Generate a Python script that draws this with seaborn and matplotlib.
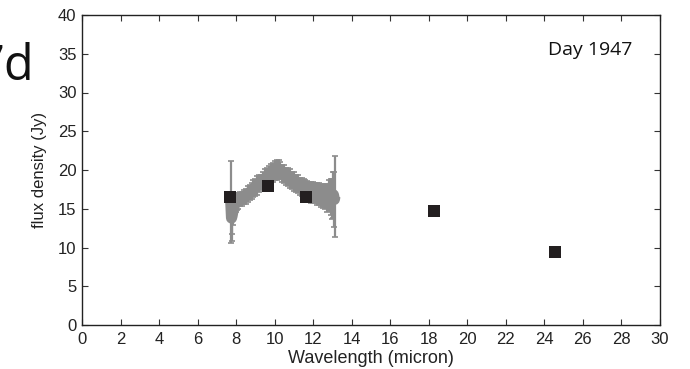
import numpy as np
import pandas as pd
import matplotlib
matplotlib.use("Agg")
import matplotlib.pyplot as plt
import seaborn as sns

# Spectrum (gray, with error bars)
spec_wl = [7.72, 7.76, 7.80, 7.85, 7.90, 7.95, 8.00, 8.05, 8.10, 8.20, 8.30, 8.40, 8.50, 8.60,
           8.70, 8.80, 8.90, 9.00, 9.10, 9.20, 9.30, 9.40, 9.50, 9.60, 9.70, 9.80,
           9.90, 10.00, 10.10, 10.20, 10.30, 10.40, 10.50, 10.60, 10.70, 10.80, 10.90,
           11.00, 11.10, 11.20, 11.30, 11.40, 11.50, 11.60, 11.70, 11.80, 11.90, 12.00,
           12.10, 12.20, 12.30, 12.40, 12.50, 12.60, 12.70, 12.80, 12.90, 13.00, 13.05,
           13.10, 13.13]
spec_flux = [15.9, 13.8, 14.2, 14.9, 15.4, 15.7, 15.8, 15.9, 16.0, 16.2, 16.3, 16.5, 16.6, 16.9,
             17.1, 17.3, 17.6, 17.8, 18.0, 18.3, 18.4, 18.6, 18.9, 19.0, 19.3, 19.5,
             19.7, 19.9, 20.0, 20.1, 19.9, 19.6, 19.5, 19.2, 19.1, 18.9, 18.6,
             18.5, 18.3, 18.2, 17.9, 17.8, 17.6, 17.5, 17.3, 17.3, 17.1, 17.1,
             17.0, 16.9, 16.9, 16.7, 16.6, 16.6, 16.4, 16.7, 16.5, 16.3, 16.8,
             16.2, 16.6]
spec_err = [5.3, 3.0, 2.5, 2.0, 1.6, 1.3, 1.2, 1.1, 1.0, 0.9, 0.9, 0.9, 1.0, 1.0,
            1.0, 1.0, 1.1, 1.1, 1.2, 1.1, 1.0, 1.1, 1.2, 1.3, 1.2, 1.3,
            1.2, 1.2, 1.3, 1.2, 1.1, 1.1, 1.2, 1.1, 1.1, 1.2, 1.1,
            1.2, 1.1, 1.2, 1.1, 1.2, 1.2, 1.2, 1.3, 1.2, 1.3, 1.3,
            1.3, 1.4, 1.4, 1.5, 1.5, 1.6, 1.8, 2.0, 2.3, 2.6, 3.0,
            3.6, 5.2]

# Photometry (black squares)
phot_wl = [7.68, 9.65, 11.62, 18.27, 24.55]
phot_flux = [16.5, 17.9, 16.5, 14.7, 9.4]

x_ticks = list(range(0, 31, 2))
y_ticks = list(range(0, 41, 5))

sns.set_theme(style="white")
plt.rcParams['font.family'] = ['Liberation Sans', 'DejaVu Sans']

fig = plt.figure(figsize=(6.9, 3.69), dpi=100)
ax = fig.add_axes([82/690, 1-325/369, (660-82)/690, (325-15)/369])

spec = pd.DataFrame({"wl": spec_wl, "flux": spec_flux, "err": spec_err})
phot = pd.DataFrame({"wl": phot_wl, "flux": phot_flux})

ax.errorbar(spec["wl"], spec["flux"], yerr=spec["err"], fmt="none",
            ecolor="#8c8c8c", elinewidth=1.6, capsize=2.5, capthick=1.2, zorder=2)
sns.lineplot(data=spec, x="wl", y="flux", ax=ax, color="#8c8c8c", lw=8,
             sort=True, zorder=2, solid_capstyle="butt")
sns.scatterplot(data=phot, x="wl", y="flux", ax=ax, marker="s", s=70,
                color="#231f20", edgecolor="#231f20", linewidth=0, zorder=3)

ax.set_xlim(0, 30)
ax.set_ylim(0, 40)
ax.set_xticks(x_ticks)
ax.set_yticks(y_ticks)
ax.tick_params(axis="both", direction="in", length=4, width=0.8, color="#333333",
               labelsize=12, labelcolor="#222222", top=True, right=True,
               bottom=True, left=True, pad=4)
ax.tick_params(axis="x", pad=5)
for s in ax.spines.values():
    s.set_visible(True)
    s.set_color("#222222")
    s.set_linewidth(1.0)

ax.set_xlabel("Wavelength (micron)", fontsize=13, color="#222222", labelpad=2)
ax.set_ylabel("flux density (Jy)", fontsize=12, color="#222222", labelpad=8)

ax.text(0.88, 0.888, "Day 1947", transform=ax.transAxes, ha="center", va="center",
        fontsize=14, family=["Open Sans", "DejaVu Sans"], color="#111111")
fig.text(34/690, 1-67/369, "7d", ha="right", va="center", fontsize=35,
         family=["Open Sans", "DejaVu Sans"], color="#111111")

fig.savefig("out.png", dpi=100)
